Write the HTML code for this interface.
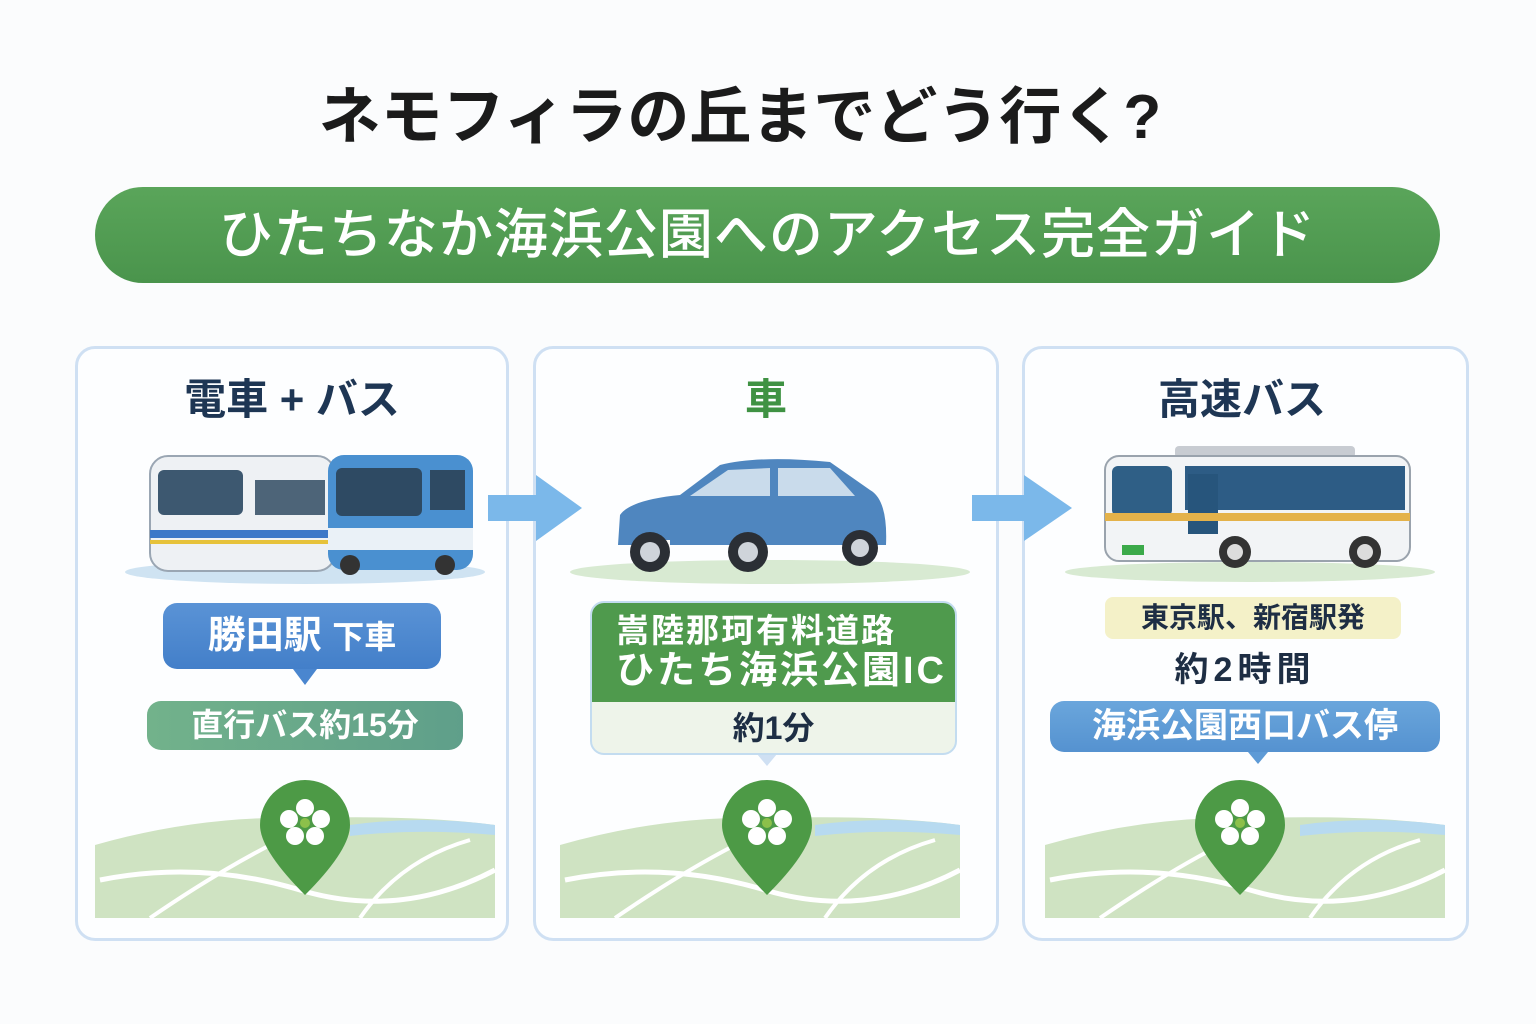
<!DOCTYPE html>
<html><head><meta charset="utf-8">
<style>
*{margin:0;padding:0;box-sizing:border-box}
body{width:1536px;height:1024px;background:#fbfcfd;position:relative;overflow:hidden;font-family:"Liberation Sans","Noto Sans CJK JP",sans-serif}
.a{position:absolute}
.t{white-space:nowrap;text-align:center;font-weight:700}
.card{position:absolute;border:3px solid #cfe0f3;border-radius:20px;background:#fdfeff}
</style></head><body>
<div class="a t" style="left:0;width:1480px;top:80px;font-size:62px;color:#1b1b1b;line-height:76px">ネモフィラの丘までどう行く?</div>
<div class="a t" style="left:95px;top:187px;width:1345px;height:96px;border-radius:48px;background:linear-gradient(#5aa55a,#4a944c);color:#fff;font-size:54px;line-height:96px;letter-spacing:1px;font-weight:500">ひたちなか海浜公園へのアクセス完全ガイド</div>

<div class="card" style="left:75px;top:346px;width:434px;height:595px"></div>
<div class="card" style="left:533px;top:346px;width:466px;height:595px"></div>
<div class="card" style="left:1022px;top:346px;width:447px;height:595px"></div>

<div class="a t" style="left:75px;width:434px;top:366px;font-size:42px;color:#1e3654">電車 + バス</div>
<div class="a t" style="left:533px;width:466px;top:366px;font-size:42px;color:#3f9243">車</div>
<div class="a t" style="left:1022px;width:440px;top:366px;font-size:42px;color:#1e3654">高速バス</div>

<svg class="a" style="left:0;top:0" width="1536" height="1024">
 <polygon points="488,495 536,495 536,475 582,508 536,541 536,521 488,521" fill="#7bb8ea"/>
 <polygon points="972,495 1024,495 1024,475 1072,508 1024,541 1024,521 972,521" fill="#7bb8ea"/>
 <ellipse cx="305" cy="572" rx="180" ry="12" fill="#cfe3f2"/>
 <rect x="150" y="456" width="185" height="115" rx="18" fill="#eef1f4" stroke="#9aa6b3" stroke-width="2"/>
 <rect x="158" y="470" width="85" height="45" rx="6" fill="#3d5870"/>
 <rect x="150" y="530" width="185" height="8" fill="#3c78c8"/>
 <rect x="150" y="540" width="185" height="4" fill="#e6c23a"/>
 <rect x="255" y="480" width="70" height="35" fill="#4d6478"/>
 <rect x="328" y="455" width="145" height="115" rx="16" fill="#4a90d0"/>
 <rect x="336" y="468" width="86" height="48" rx="6" fill="#2e4a63"/>
 <rect x="430" y="470" width="35" height="40" fill="#2e4a63"/>
 <rect x="328" y="528" width="145" height="22" fill="#eaf1f7"/>
 <circle cx="350" cy="565" r="10" fill="#333"/><circle cx="445" cy="565" r="10" fill="#333"/>
 <ellipse cx="770" cy="572" rx="200" ry="12" fill="#d8ead2"/>
 <path d="M618,545 L620,515 Q630,500 680,495 L720,465 Q760,455 830,462 L870,490 Q888,500 886,545 Z" fill="#4f86bf"/>
 <path d="M690,496 L728,470 L770,468 L770,496 Z" fill="#c9dbeb"/>
 <path d="M778,468 L830,468 L855,496 L778,496 Z" fill="#c9dbeb"/>
 <rect x="640" y="540" width="30" height="12" fill="#fff"/>
 <circle cx="650" cy="552" r="20" fill="#2b2f35"/><circle cx="650" cy="552" r="10" fill="#cfd4da"/>
 <circle cx="748" cy="552" r="20" fill="#2b2f35"/><circle cx="748" cy="552" r="10" fill="#cfd4da"/>
 <circle cx="860" cy="548" r="18" fill="#2b2f35"/><circle cx="860" cy="548" r="9" fill="#cfd4da"/>
 <ellipse cx="1250" cy="572" rx="185" ry="10" fill="#d8ead2"/>
 <rect x="1175" y="446" width="180" height="12" rx="4" fill="#c8ccd2"/>
 <rect x="1105" y="456" width="305" height="105" rx="14" fill="#f2f4f6" stroke="#9aa3ad" stroke-width="2"/>
 <rect x="1112" y="466" width="60" height="50" rx="6" fill="#2f5f86"/>
 <rect x="1185" y="466" width="220" height="44" fill="#2d5c85"/>
 <rect x="1188" y="474" width="30" height="60" fill="#27557c"/>
 <rect x="1105" y="513" width="305" height="8" fill="#e4b24a"/>
 <rect x="1122" y="545" width="22" height="10" fill="#3caa4a"/>
 <circle cx="1235" cy="552" r="16" fill="#333"/><circle cx="1235" cy="552" r="8" fill="#ddd"/>
 <circle cx="1365" cy="552" r="16" fill="#333"/><circle cx="1365" cy="552" r="8" fill="#ddd"/>
 <g id="m">
 <path d="M95,845 Q200,815 305,818 Q420,815 495,825 L495,918 L95,918 Z" fill="#cfe3c2"/>
 <path d="M100,880 Q200,860 300,890 T495,870" stroke="#fff" stroke-width="5" fill="none"/>
 <path d="M150,918 Q220,870 280,840" stroke="#fff" stroke-width="4" fill="none"/>
 <path d="M360,918 Q400,860 470,840" stroke="#fff" stroke-width="4" fill="none"/>
 <path d="M350,825 Q420,815 495,825 L495,835 Q420,828 350,836 Z" fill="#b7daf0"/>
 </g>
 <use href="#m" x="465"/><use href="#m" x="950"/>
 <g id="p">
 <path d="M305,895 Q260,850 260,825 A45,45 0 1 1 350,825 Q350,850 305,895 Z" fill="#4d9a46"/>
 <g fill="#fff"><circle cx="305" cy="808" r="9"/><circle cx="321" cy="819" r="9"/><circle cx="315" cy="836" r="9"/><circle cx="295" cy="836" r="9"/><circle cx="289" cy="819" r="9"/></g>
 <circle cx="305" cy="823" r="5" fill="#8cc04a"/>
 </g>
 <use href="#p" x="462"/><use href="#p" x="935"/>
 <polygon points="293,669 317,669 305,685" fill="#4a86cf"/>
 <polygon points="757,754 777,754 767,766" fill="#cfe0f3"/>
 <polygon points="1248,752 1268,752 1258,764" fill="#5d9ad6"/>
</svg>

<div class="a t" style="left:163px;top:603px;width:278px;height:66px;border-radius:14px;background:linear-gradient(#5a93d6,#437fc9);color:#fff;font-size:38px;line-height:66px">勝田駅 <span style="font-size:32px">下車</span></div>
<div class="a t" style="left:147px;top:701px;width:316px;height:49px;border-radius:14px;background:linear-gradient(90deg,#72b28b,#5f9f8a);color:#fff;font-size:32px;line-height:49px">直行バス約15分</div>

<div class="a" style="left:590px;top:601px;width:367px;height:154px;border-radius:14px;border:2px solid #c3dcf0;background:#eef4ea;overflow:hidden">
 <div class="t" style="background:#4f9a4d;height:99px;color:#fff;padding-top:8px;font-size:33px;line-height:40px;text-align:left;padding-left:24px;letter-spacing:2px">嵩陸那珂有料道路<br><span style="font-size:38px;letter-spacing:3px">ひたち海浜公園IC</span></div>
 <div class="t" style="color:#1e2e44;font-size:32px;line-height:52px">約1分</div>
</div>

<div class="a t" style="left:1105px;top:597px;width:296px;height:42px;border-radius:8px;background:#f4f1c8;color:#1e2e44;font-size:28px;line-height:42px">東京駅、新宿駅発</div>
<div class="a t" style="left:1050px;top:648px;width:390px;font-size:34px;color:#1e2e44;line-height:44px;letter-spacing:5px">約2時間</div>
<div class="a t" style="left:1050px;top:701px;width:390px;height:51px;border-radius:14px;background:linear-gradient(#6aa6dc,#5592d0);color:#fff;font-size:34px;line-height:51px">海浜公園西口バス停</div>
</body></html>
